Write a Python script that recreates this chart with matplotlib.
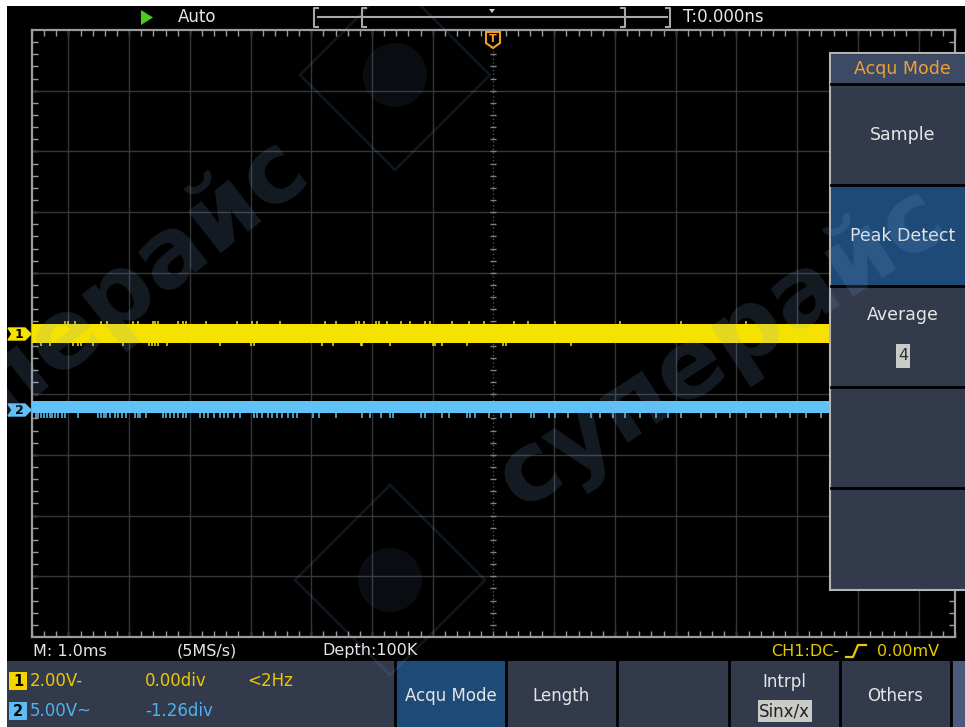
import numpy as np
import matplotlib.pyplot as plt
from matplotlib.patches import Rectangle, Polygon

# ---- scope settings ----
time_per_div = 1.0      # ms/div  ("M: 1.0ms")
h_divs = 15.2           # visible horizontal divisions
v_divs = 10
ch1_scale = 2.0         # V/div
ch2_scale = 5.0         # V/div
ch1_pos = 0.00          # div
ch2_pos = -1.26         # div

# peak-detect noise band (V)
ch1_band = (-0.31, 0.31)
ch2_band = (-0.22, 0.76)
ch1_spike_top_v = 0.40
ch1_spike_bot_v = -0.42
ch2_spike_bot_v = -0.62

# glitch positions (ms)
ch1_spikes_top = [-7.05, -7.00, -6.89, -6.47, -6.36, -5.93, -5.85, -5.60, -5.57, -5.52,
                  -5.19, -5.12, -5.07, -4.74, -4.22, -3.97, -3.89, -3.51, -2.77, -2.60,
                  -2.27, -2.22, -2.14, -1.94, -1.89, -1.75, -1.53, -1.37, -1.12, -1.04,
                  -0.68, -0.41, -0.16, 0.33, 0.56, 1.02, 2.09, 3.08, 4.15]
ch1_spikes_bot = [-7.46, -7.30, -6.92, -6.85, -6.80, -6.59, -6.10, -5.68, -5.62, -5.57,
                  -5.52, -5.37, -4.50, -4.00, -3.95, -2.82, -2.64, -2.19, -2.16, -1.70,
                  -1.00, -0.96, -0.84, -0.43, 0.15, 0.20, 1.27]
ch2_spikes_bot = [-7.53, -7.50, -7.46, -7.41, -7.36, -7.31, -7.27, -7.22, -7.17, -7.10,
                  -7.05, -6.84, -6.52, -6.47, -6.42, -6.38, -6.31, -6.24, -6.18, -6.11,
                  -6.06, -5.91, -5.86, -5.82, -5.72, -5.45, -5.39, -5.32, -5.26, -5.19,
                  -5.12, -5.06, -4.83, -4.76, -4.70, -4.61, -4.50, -4.43, -4.37, -4.28,
                  -4.17, -3.95, -3.89, -3.81, -3.72, -3.64, -3.56, -3.48, -3.39, -3.31,
                  -3.23, -2.98, -2.88, -2.60, -2.16, -2.03, -1.86, -1.70, -1.65, -1.20,
                  -1.12, -0.84, -0.74, -0.43, -0.38, -0.30, -0.08, 0.12, 0.28, 0.61,
                  0.66, 0.91, 1.02, 1.22, 1.60, 1.76, 1.96, 2.17, 2.42, 2.67, 2.88,
                  3.08, 3.41, 3.66, 3.90, 4.15, 4.40, 4.65, 4.89, 5.14, 5.39]

# ---- menu / status texts ----
status_left = ["M: 1.0ms", "(5MS/s)", "Depth:100K"]
trig_text = ["CH1:DC-", "0.00mV"]
ch1_info = ["2.00V-", "0.00div", "<2Hz"]
ch2_info = ["5.00V~", "-1.26div"]
bottom_buttons = ["Acqu Mode", "Length", "", "Intrpl", "Others"]
side_title = "Acqu Mode"
side_items = ["Sample", "Peak Detect", "Average", "", ""]

YEL = "#f6e200"
BLU = "#5fc3f7"
GRID = "#363636"
BORDER = "#9c9c9c"
SLATE = "#323a4c"
SEL = "#1d4a77"
TXT = "#e6e6e6"
YTXT = "#e9c900"
BTXT = "#4eb2f0"

fig = plt.figure(figsize=(9.65, 7.27), dpi=100, facecolor="black")

# ---- scope graticule ----
ax = fig.add_axes([32 / 965, 90 / 727, 923 / 965, 607 / 727], facecolor="black")
half_w = h_divs / 2 * time_per_div
ax.set_xlim(-half_w, half_w)
ax.set_ylim(-v_divs / 2, v_divs / 2)

xg = [x for x in range(-7, 8) if x != 0]
yg = [y for y in range(-4, 5) if y != 0]
ax.vlines(xg, -5, 5, color=GRID, lw=1)
ax.hlines(yg, -half_w, half_w, color=GRID, lw=1)
ax.axvline(0, color="#5a5a5a", lw=0.9, ls=(0, (1, 2)))
ax.axhline(0, color="#5a5a5a", lw=0.9, ls=(0, (1, 2)))
minor_y = np.round(np.arange(-24, 25) * 0.2, 2)
minor_x = np.round(np.arange(-38, 39) * 0.2, 2)
ax.plot(np.zeros_like(minor_y), minor_y, ls="none", marker="_", ms=4, color="#808080", mew=1)
ax.plot(minor_x, np.zeros_like(minor_x), ls="none", marker="|", ms=4, color="#808080", mew=1)

ax.set_xticks(minor_x)
ax.set_yticks(minor_y)
ax.tick_params(direction="in", length=4, width=1, color=BORDER, top=True, right=True,
               labelbottom=False, labelleft=False)
for s in ax.spines.values():
    s.set_color(BORDER)
    s.set_linewidth(1.6)

# ---- traces ----
t = np.array([-half_w, half_w])
c1_lo = ch1_band[0] / ch1_scale + ch1_pos
c1_hi = ch1_band[1] / ch1_scale + ch1_pos
c2_lo = ch2_band[0] / ch2_scale + ch2_pos
c2_hi = ch2_band[1] / ch2_scale + ch2_pos
ax.fill_between(t, c1_lo, c1_hi, color=YEL, lw=0, zorder=5)
ax.fill_between(t, c2_lo, c2_hi, color=BLU, lw=0, zorder=5)
ax.vlines(ch1_spikes_top, c1_hi, ch1_spike_top_v / ch1_scale + ch1_pos, color=YEL, lw=1.1, zorder=5)
ax.vlines(ch1_spikes_bot, ch1_spike_bot_v / ch1_scale + ch1_pos, c1_lo, color=YEL, lw=1.1, zorder=5)
ax.vlines(ch2_spikes_bot, ch2_spike_bot_v / ch2_scale + ch2_pos, c2_lo, color=BLU, lw=1.1, zorder=5)

# ---- overlay in screen pixels ----
ov = fig.add_axes([0, 0, 1, 1], facecolor="none", zorder=10)
ov.set_xlim(0, 965)
ov.set_ylim(727, 0)
ov.axis("off")

def box(x0, y0, x1, y1, fc, ec="none", lw=0, z=1):
    ov.add_patch(Rectangle((x0, y0), x1 - x0, y1 - y0, fc=fc, ec=ec, lw=lw, zorder=z))

# white margins of the screenshot
box(0, 0, 965, 6, "white", z=50)
box(0, 0, 7, 727, "white", z=50)

# top bar
ov.add_patch(Polygon([(141, 10), (141, 25), (153, 17.5)], fc="#4ccc1c", zorder=3))
ov.text(178, 17, "Auto", color=TXT, fontsize=12, va="center")
ov.plot([318, 667], [17, 17], color="#a8a8a8", lw=1.5, zorder=3)
for bx, d in [(314, 1), (362, 1), (625, -1), (670, -1)]:
    ov.plot([bx + 4 * d, bx, bx, bx + 4 * d], [8, 8, 27, 27], color="#a8a8a8", lw=1.5, zorder=3)
ov.add_patch(Polygon([(489, 9), (495, 9), (492, 13)], fc="#d0d0d0", zorder=3))
ov.text(683, 17, "T:0.000ns", color=TXT, fontsize=12, va="center")

# trigger marker
ov.add_patch(Polygon([(486, 32), (500, 32), (500, 43), (493, 48), (486, 43)],
                     fc="black", ec="#f0a020", lw=1.5, zorder=4))
ov.text(493, 39.5, "T", color="#f0a020", fontsize=8, fontweight="bold", ha="center", va="center", zorder=5)

# channel tags
for yc, col, lab in [(334, YEL, "1"), (410, BLU, "2")]:
    ov.add_patch(Polygon([(8, yc - 6), (25, yc - 6), (31, yc), (25, yc + 6), (8, yc + 6), (12, yc)],
                         fc=col, ec=col, zorder=4))
    ov.text(19, yc + 0.5, lab, color="black", fontsize=9, fontweight="bold", ha="center", va="center", zorder=5)

# status row
for x, s in zip([33, 177, 322], status_left):
    ov.text(x, 651, s, color=TXT, fontsize=11.5, va="center")
ov.text(771, 651, trig_text[0], color=YTXT, fontsize=11.5, va="center")
ov.plot([846, 853, 858, 866], [657, 657, 645, 645], color=YTXT, lw=1.6)
ov.text(877, 651, trig_text[1], color=YTXT, fontsize=11.5, va="center")

# bottom menu
box(7, 661, 965, 727, SLATE)
box(952, 661, 965, 727, "#4b5b7c")
seps = [395, 506, 617, 729, 840, 951]
box(seps[0], 661, seps[1], 727, SEL, z=1.5)
for sx in seps:
    ov.plot([sx, sx], [661, 727], color="black", lw=2, zorder=2)
for i, lab in enumerate(bottom_buttons):
    cx = (seps[i] + seps[i + 1]) / 2
    if lab == "Intrpl":
        ov.text(cx, 682, lab, color=TXT, fontsize=12, ha="center", va="center")
        box(cx - 27, 700, cx + 27, 722, "#c8cbc6", z=2)
        ov.text(cx, 711, "Sinx/x", color="#202020", fontsize=12, ha="center", va="center", zorder=3)
    elif lab:
        ov.text(cx, 696, lab, color=TXT, fontsize=12, ha="center", va="center")

box(9, 672, 27, 690, "#f5d400", z=2)
ov.text(18, 681, "1", color="black", fontsize=10.5, fontweight="bold", ha="center", va="center", zorder=3)
box(9, 702, 27, 720, "#5cbdf6", z=2)
ov.text(18, 711, "2", color="black", fontsize=10.5, fontweight="bold", ha="center", va="center", zorder=3)
for x, s in zip([30, 145, 247], ch1_info):
    ov.text(x, 681, s, color=YTXT, fontsize=12, va="center")
for x, s in zip([30, 145], ch2_info):
    ov.text(x, 711, s, color=BTXT, fontsize=12, va="center")

# side menu
box(830, 53, 967, 590, SLATE, ec="#b4b4b4", lw=1.5, z=20)
box(831, 55, 965, 84, "#3d4a66", z=21)
ov.text(902, 69, side_title, color="#f0a030", fontsize=12.5, ha="center", va="center", zorder=22)
item_tops = [85, 186, 287, 388, 489]
for i, (top, lab) in enumerate(zip(item_tops, side_items)):
    if i == 1:
        box(831, top, 965, top + 99, SEL, z=21)
    ov.plot([831, 965], [top - 1, top - 1], color="black", lw=2, zorder=22)
    if lab == "Average":
        ov.text(903, 315, lab, color=TXT, fontsize=12.5, ha="center", va="center", zorder=23)
        box(896, 344, 910, 368, "#c8cbc6", z=23)
        ov.text(903, 356, "4", color="#303030", fontsize=11.5, ha="center", va="center", zorder=24)
    elif lab:
        ov.text(903, top + 50, lab, color=TXT, fontsize=12.5, ha="center", va="center", zorder=23)

# watermark
wm = dict(color="#7aa6de", alpha=0.16, fontsize=70, fontweight="bold", ha="center",
          va="center", zorder=40)
ov.text(95, 315, "суперайс", rotation=38, **wm)
ov.text(722, 348, "суперайс", rotation=33, **wm)
for cx, cy in [(395, 75), (390, 580)]:
    ov.add_patch(Polygon([(cx, cy - 95), (cx + 95, cy), (cx, cy + 95), (cx - 95, cy)],
                         fc="none", ec="#7aa6de", alpha=0.13, lw=2, zorder=40))
    ov.add_patch(plt.Circle((cx, cy), 32, fc="#7aa6de", alpha=0.08, zorder=40))

fig.savefig("out.png", dpi=100, facecolor="black")
